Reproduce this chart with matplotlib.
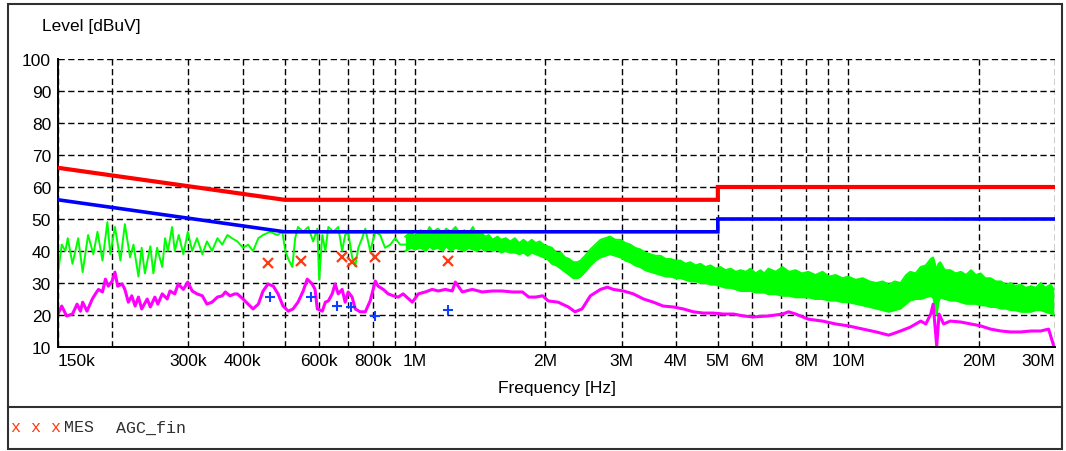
"""
Conducted emission scan (150 kHz - 30 MHz) with QP / AV limit lines.
"""
import matplotlib
matplotlib.use('Agg')
import matplotlib.pyplot as plt
from matplotlib.lines import Line2D
from matplotlib.patches import Rectangle

plt.rcParams['font.family'] = ['Liberation Sans', 'DejaVu Sans']

# limit lines (EN 55022 class B style)
limit_f = [150e3, 500e3, 5e6, 5e6, 30e6]
limit_qp = [66, 56, 56, 60, 60]
limit_av = [56, 46, 46, 50, 50]

# peak scan (green), low band read point by point, kHz
peak_f_khz = [150, 153, 156, 158, 162, 167, 171, 176, 181, 185, 190, 195, 198, 203, 209,
              214, 220, 224, 230, 234, 238, 245, 249, 254, 261, 265, 269, 275, 279, 285,
              292, 299, 306, 314, 323, 331, 340, 350, 359, 369, 378, 389, 401, 412, 423,
              435, 446, 463, 481, 494, 502, 510, 521, 529, 537, 552, 567, 582, 595, 601,
              611, 621, 631, 648, 665, 679, 690, 701, 716, 728, 740, 755, 768, 788, 810,
              831, 853, 877, 900, 924, 950]
peak_db = [33, 42, 40, 44, 36, 44, 33.4, 45, 39, 46, 37, 49, 39, 47.5, 37,
           48.4, 38, 42, 32, 41, 33, 41.5, 33, 41, 35, 44, 40, 47.5, 40, 45,
           39, 46, 40, 44, 39, 43, 40, 44, 42, 45, 44, 43, 41, 42, 40,
           44, 45, 46, 45, 46, 40, 37.5, 35, 44, 47.5, 46, 47.5, 43, 47, 31,
           45, 40, 47.5, 46, 47.5, 40, 45, 46, 38, 35.3, 41, 44, 47, 40, 46,
           45, 41, 42, 44, 42, 42]

# peak scan above ~1 MHz is a dense band: upper / lower envelope, MHz
band_f_mhz = [0.95, 0.98, 1.00, 1.03, 1.06, 1.08, 1.10, 1.13, 1.16, 1.18, 1.21, 1.24,
              1.27, 1.30, 1.33, 1.36, 1.39, 1.42, 1.45, 1.48, 1.51, 1.55, 1.58, 1.62,
              1.66, 1.70, 1.74, 1.78, 1.82, 1.86, 1.90, 1.94, 1.98, 2.02, 2.07, 2.12,
              2.17, 2.22, 2.27, 2.32, 2.37, 2.41, 2.47, 2.54, 2.61, 2.68, 2.75, 2.82,
              2.90, 2.98, 3.06, 3.14, 3.22, 3.31, 3.40, 3.49, 3.59, 3.69, 3.79, 3.89,
              4.00, 4.10, 4.21, 4.32, 4.44, 4.56, 4.68, 4.81, 4.94, 5.07, 5.21, 5.35,
              5.50, 5.64, 5.80, 5.95, 6.11, 6.27, 6.40, 6.54, 6.80, 7.05, 7.30, 7.56,
              7.82, 8.09, 8.40, 8.72, 9.03, 9.35, 9.70, 10.0, 10.4, 10.8, 11.2, 11.6,
              12.0, 12.4, 12.8, 13.2, 13.6, 13.9, 14.3, 14.7, 15.1, 15.5, 15.7, 15.85,
              16.0, 16.15, 16.3, 16.7, 17.2, 17.7, 18.2, 18.7, 19.2, 19.7, 20.2, 20.7,
              21.3, 21.9, 22.5, 23.1, 23.7, 24.3, 25.0, 25.7, 26.4, 27.1, 27.8, 28.5,
              29.3, 29.8]
band_hi = [44.5, 46, 44.5, 46.5, 45, 47.5, 46, 47, 45.5, 47, 46, 47.5,
           45.5, 46.5, 45.5, 47.5, 45, 46, 44.5, 45, 43.5, 44.5, 43.5, 44,
           43, 44, 42.5, 43.5, 42.5, 43.5, 42.5, 43, 42, 41.5, 41, 39.5,
           39.5, 38, 37.5, 36.5, 36.5, 37, 38.5, 40.5, 42, 43.5, 44, 44.5,
           43.5, 43.5, 42.5, 42, 41, 40.5, 39.5, 39, 38.5, 38.5, 37.5, 37.5,
           37, 37, 36, 36.5, 35.5, 36, 35, 35.5, 34.5, 35, 34, 34.5,
           33.5, 34, 33.5, 34.5, 33, 34, 33, 34.5, 33.5, 35, 33.5, 34,
           33, 33.5, 32.5, 33.5, 32, 32.5, 31.5, 32, 31, 31.5, 30.5, 30,
           30.5, 29.5, 30.5, 30, 32.5, 33.5, 33, 35, 35.5, 37.5, 38, 36,
           34, 36, 36.5, 34, 34, 33, 33.5, 32.5, 34, 32.5, 33, 31.5,
           31.5, 30.5, 30.5, 29.5, 30, 29, 29.5, 28.5, 29, 28.5, 30, 28.5,
           29.5, 28]
band_lo = [40, 41, 40.5, 41, 40, 41.5, 40.5, 41, 40, 41.5, 40, 41,
           40.5, 40, 41, 40.5, 40, 41, 40, 40.5, 40, 40.5, 39.5, 40,
           39.5, 39.5, 39, 39.5, 38.5, 39.5, 39, 38.5, 38, 37.5, 36, 35.5,
           34.5, 33.5, 32.5, 31.5, 31.5, 32, 33.5, 35.5, 37, 38, 38.5, 39,
           38.5, 38, 37, 36.5, 35.5, 35, 34, 33.5, 33, 32.5, 32, 32,
           31.5, 31.5, 31, 30.5, 30.5, 30, 30, 29.5, 29.5, 29, 28.5, 28.5,
           28, 27.5, 27.5, 27.5, 27, 27, 27, 26.5, 26.5, 26, 26, 25.5,
           25.5, 25.5, 25, 25, 24.5, 24.5, 24, 24, 23.5, 23, 22.5, 22,
           21.5, 21, 21.5, 22, 23.5, 24.5, 25, 25, 25.5, 26, 25.5, 23,
           20, 24, 25.5, 25, 24.5, 24.5, 24, 23.5, 23.5, 23.5, 23, 23,
           22.5, 22.5, 22, 22, 21.5, 21.5, 21, 21, 21, 21.5, 21.5, 21,
           20.5, 20]

# average scan (magenta), MHz
avg_f_mhz = [0.150, 0.153, 0.157, 0.162, 0.166, 0.169, 0.171, 0.175, 0.180, 0.183, 0.186,
             0.190, 0.193, 0.196, 0.200, 0.203, 0.206, 0.211, 0.214, 0.218, 0.222, 0.226,
             0.230, 0.234, 0.241, 0.245, 0.251, 0.255, 0.261, 0.268, 0.272, 0.279, 0.284,
             0.292, 0.299, 0.306, 0.314, 0.323, 0.331, 0.340, 0.350, 0.359, 0.365, 0.374,
             0.384, 0.389, 0.401, 0.412, 0.423, 0.435, 0.446, 0.458, 0.471, 0.483, 0.496,
             0.510, 0.523, 0.537, 0.552, 0.564, 0.579, 0.588, 0.595, 0.611, 0.621, 0.631,
             0.644, 0.654, 0.665, 0.679, 0.690, 0.701, 0.716, 0.728, 0.747, 0.768, 0.788,
             0.810, 0.822, 0.845, 0.867, 0.891, 0.915, 0.939, 0.986, 1.018, 1.056, 1.096,
             1.132, 1.175, 1.219, 1.239, 1.286, 1.356, 1.43, 1.508, 1.59, 1.677, 1.77,
             1.83, 1.90, 1.97, 2.03, 2.14, 2.26, 2.34, 2.43, 2.54, 2.68, 2.78, 2.87,
             3.03, 3.19, 3.37, 3.55, 3.74, 3.95, 4.16, 4.39, 4.63, 4.88, 5.15, 5.43,
             5.73, 6.04, 6.54, 7.05, 7.28, 7.56, 8.09, 8.72, 9.35, 10.0, 10.8, 11.6,
             12.4, 13.2, 13.9, 14.7, 15.1, 15.5, 15.7, 16.0, 16.2, 16.6, 17.2, 18.2,
             19.2, 20.2, 21.3, 22.5, 23.7, 25.0, 26.4, 27.8, 29.0, 29.8]
avg_db = [20.3, 22.8, 19.7, 20.3, 23.4, 21.2, 24, 21.2, 25, 26.6, 28,
          27.2, 31.2, 29, 30.6, 33.4, 29, 29.7, 28, 24, 26, 22.8,
          25.6, 21.9, 25, 22.5, 25.6, 23.4, 26.6, 25, 27.5, 26.6, 29.7,
          28, 30.3, 27.5, 26.6, 26, 23.4, 24, 25.6, 26, 27.2, 26,
          26.6, 26.6, 25, 23.4, 21.9, 23.4, 27.5, 29.7, 29, 26.6, 22.8,
          21.2, 21.9, 24, 27.5, 31.2, 29.7, 28, 21.9, 21.2, 24, 24.4,
          26.6, 29.7, 26.6, 28, 24, 27.2, 25.6, 21.9, 21, 21, 24.4,
          30.6, 29, 28, 26.6, 26, 25.6, 26.6, 24, 26.6, 27.2, 28,
          27.5, 28, 27.5, 30.3, 27.2, 28, 27.2, 27.5, 27.5, 27.2, 27.2,
          25.6, 25.6, 26, 24.4, 24, 22.5, 21, 21.9, 26, 28, 28.7, 28,
          27.5, 26.6, 25, 24, 22.8, 22.5, 21.9, 21, 20.6, 20.6, 20.3, 20.3,
          19.7, 19.4, 19.7, 20.3, 21, 20.3, 18.7, 18.1, 17.2, 16.6, 15.6, 14.7,
          13.7, 15, 16.2, 18.1, 17.2, 20.3, 23.4, 10.3, 20.3, 17.2, 18.1, 17.8,
          17.2, 16.6, 15.6, 15, 14.7, 14.7, 15, 15, 15.6, 10.3]

# final measurements
qp_f_khz = [458, 546, 679, 717, 810, 1190]
qp_db = [36.2, 36.9, 38.1, 36.6, 38.1, 36.9]
av_f_khz = [463, 576, 661, 712, 810, 1190]
av_db = [25.6, 25.6, 22.8, 22.5, 19.7, 21.6]

tick_f = [150e3, 200e3, 300e3, 400e3, 500e3, 600e3, 700e3, 800e3, 900e3, 1e6,
          2e6, 3e6, 4e6, 5e6, 6e6, 7e6, 8e6, 9e6, 10e6, 20e6, 30e6]
tick_labels = ['150k', '', '300k', '400k', '', '600k', '', '800k', '', '1M',
               '2M', '3M', '4M', '5M', '6M', '', '8M', '', '10M', '20M', '30M']
level_ticks = list(range(10, 101, 10))

W, H = 1066, 452
GREEN = '#00ff00'
MAGENTA = '#ff00ff'
FS = 12.5


def fx(x):
    return x / W


def fy(y):
    return 1 - y / H


fig = plt.figure(figsize=(W / 100, H / 100), dpi=100)
ax = fig.add_axes([fx(58), fy(348), fx(1055 - 58), (348 - 60) / H])

band_f = [f * 1e6 for f in band_f_mhz]
ax.fill_between(band_f, band_lo, band_hi, color=GREEN, lw=0, zorder=2)
ax.plot(band_f, band_hi, color=GREEN, lw=1.4, zorder=2)
ax.plot(band_f, band_lo, color=GREEN, lw=1.4, zorder=2)
ax.plot([f * 1e3 for f in peak_f_khz], peak_db, color=GREEN, lw=1.4, zorder=2)
ax.plot([f * 1e6 for f in avg_f_mhz], avg_db, color=MAGENTA, lw=2.2, zorder=2)

ax.plot(limit_f, limit_qp, color='#ff0000', lw=3.0, zorder=3, solid_joinstyle='miter')
ax.plot(limit_f, limit_av, color='#0000ff', lw=2.6, zorder=3, solid_joinstyle='miter')

ax.plot([f * 1e3 for f in qp_f_khz], qp_db, 'x', color='#ff3a10', ms=6.5, mew=1.6, zorder=4)
ax.plot([f * 1e3 for f in av_f_khz], av_db, '+', color='#1040ff', ms=7, mew=1.5, zorder=4)

ax.set_xscale('log')
ax.set_xlim(150e3, 30e6)
ax.set_ylim(10, 100)
ax.set_xticks(tick_f)
ax.set_xticklabels(tick_labels)
ax.xaxis.set_minor_locator(matplotlib.ticker.NullLocator())
ax.set_yticks(level_ticks)
ax.tick_params(length=0, labelsize=FS, pad=5)
ax.tick_params(axis='x', pad=4)
xl = ax.get_xticklabels()
xl[0].set_horizontalalignment('left')
xl[-1].set_horizontalalignment('right')

ax.grid(True, color='black', lw=1.0, linestyle=(0, (4.5, 2.5)))
for s in ['top', 'right']:
    ax.spines[s].set_visible(False)
for s in ['left', 'bottom']:
    ax.spines[s].set_linewidth(1.4)

ax.set_xlabel('Frequency [Hz]', fontsize=FS, labelpad=9)

# outer frame and footer strip
fig.add_artist(Rectangle((fx(8), fy(450)), fx(1062 - 8), (450 - 5) / H,
                         fill=False, edgecolor='#303030', lw=1.5))
fig.add_artist(Line2D([fx(8), fx(1062)], [fy(408), fy(408)], color='#303030', lw=1.5))

fig.text(fx(42), fy(26), 'Level [dBuV]', fontsize=FS, va='center', ha='left')
fig.text(fx(11), fy(428), 'x x x', family='Liberation Mono', fontsize=12,
         color='#ff3a10', va='center', ha='left')
fig.text(fx(64), fy(428), 'MES', family='Liberation Mono', fontsize=12,
         color='#303030', va='center', ha='left')
fig.text(fx(116), fy(428), 'AGC_fin', family='Liberation Mono', fontsize=12,
         color='#303030', va='center', ha='left')

fig.savefig('out.png', dpi=100)
